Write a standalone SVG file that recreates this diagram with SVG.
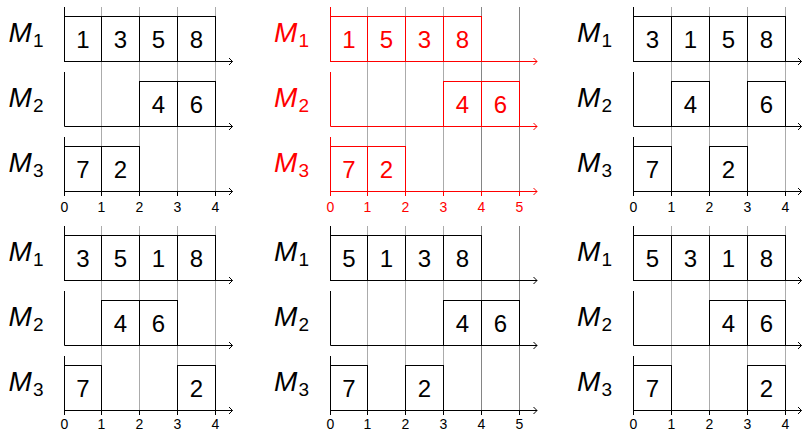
<svg xmlns="http://www.w3.org/2000/svg" width="804" height="432" viewBox="0 0 804 432">
<defs>
<style>
.blk{color:#000}
.red{color:#ff0000}
.grid line{stroke:#ababab;stroke-width:1}
.grid line.d{stroke:#858585}
.ax line,.ax path{stroke:currentColor;stroke-width:1;fill:none}
.bx rect{fill:none;stroke:currentColor;stroke-width:1}
.num{font-family:"Liberation Sans",Arial,sans-serif;font-size:24px;text-anchor:middle;fill:currentColor}
.lab{font-family:"Liberation Sans",Arial,sans-serif;font-size:28px;font-style:italic;fill:currentColor}
.sub{font-family:"Liberation Sans",Arial,sans-serif;font-size:19px;fill:currentColor}
.tk{font-family:"Liberation Sans",Arial,sans-serif;font-size:14px;text-anchor:middle;fill:currentColor}
</style>
</defs>

<!-- ===== Panel 1 (top-left) ===== -->
<g id="panel-tl" class="blk">
 <g class="grid">
  <line x1="101.5" y1="7" x2="101.5" y2="191.5"/><line x1="139.5" y1="7" x2="139.5" y2="191.5"/><line x1="177.5" y1="7" x2="177.5" y2="191.5"/><line x1="215.5" y1="7" x2="215.5" y2="191.5"/>
 </g>
 <g id="tl-boxes">
  <g id="tl-m1-1" class="bx"><rect x="64.5" y="16.5" width="37" height="45"/><text class="num" x="83" y="48">1</text></g>
  <g id="tl-m1-3" class="bx"><rect x="101.5" y="16.5" width="38" height="45"/><text class="num" x="120.5" y="48">3</text></g>
  <g id="tl-m1-5" class="bx"><rect x="139.5" y="16.5" width="38" height="45"/><text class="num" x="158.5" y="48">5</text></g>
  <g id="tl-m1-8" class="bx"><rect x="177.5" y="16.5" width="38" height="45"/><text class="num" x="196.5" y="48">8</text></g>
  <g id="tl-m2-4" class="bx"><rect x="139.5" y="81.5" width="38" height="45"/><text class="num" x="158.5" y="113">4</text></g>
  <g id="tl-m2-6" class="bx"><rect x="177.5" y="81.5" width="38" height="45"/><text class="num" x="196.5" y="113">6</text></g>
  <g id="tl-m3-7" class="bx"><rect x="64.5" y="146.5" width="37" height="45"/><text class="num" x="83" y="178">7</text></g>
  <g id="tl-m3-2" class="bx"><rect x="101.5" y="146.5" width="38" height="45"/><text class="num" x="120.5" y="178">2</text></g>
 </g>
 <g id="tl-axes" class="ax">
  <line x1="64.5" y1="7" x2="64.5" y2="61.5"/><line x1="64.5" y1="61.5" x2="232.5" y2="61.5"/><path d="M229,58 L232.5,61.5 L229,65"/>
  <line x1="64.5" y1="72" x2="64.5" y2="126.5"/><line x1="64.5" y1="126.5" x2="232.5" y2="126.5"/><path d="M229,123 L232.5,126.5 L229,130"/>
  <line x1="64.5" y1="137" x2="64.5" y2="191.5"/><line x1="64.5" y1="191.5" x2="232.5" y2="191.5"/><path d="M229,188 L232.5,191.5 L229,195"/>
  <line x1="64.5" y1="191.5" x2="64.5" y2="196"/><line x1="101.5" y1="191.5" x2="101.5" y2="196"/><line x1="139.5" y1="191.5" x2="139.5" y2="196"/><line x1="177.5" y1="191.5" x2="177.5" y2="196"/><line x1="215.5" y1="191.5" x2="215.5" y2="196"/>
 </g>
 <g id="tl-labels">
  <text class="lab" x="8.5" y="42">M</text><text class="sub" x="33" y="47">1</text>
  <text class="lab" x="8.5" y="107">M</text><text class="sub" x="33" y="112">2</text>
  <text class="lab" x="8.5" y="172">M</text><text class="sub" x="33" y="177">3</text>
  <text class="tk" x="64.5" y="212">0</text><text class="tk" x="101.5" y="212">1</text><text class="tk" x="139.5" y="212">2</text><text class="tk" x="177.5" y="212">3</text><text class="tk" x="215.5" y="212">4</text>
 </g>
</g>

<!-- ===== Panel 2 (top-middle, red) ===== -->
<g id="panel-tm" class="red">
 <g class="grid">
  <line x1="367.5" y1="7" x2="367.5" y2="191.5"/><line x1="405.5" y1="7" x2="405.5" y2="191.5"/><line x1="443.5" y1="7" x2="443.5" y2="191.5"/><line class="d" x1="481.5" y1="7" x2="481.5" y2="191.5"/><line class="d" x1="519.5" y1="7" x2="519.5" y2="191.5"/>
 </g>
 <g id="tm-boxes">
  <g id="tm-m1-1" class="bx"><rect x="330.5" y="16.5" width="37" height="45"/><text class="num" x="349" y="48">1</text></g>
  <g id="tm-m1-5" class="bx"><rect x="367.5" y="16.5" width="38" height="45"/><text class="num" x="386.5" y="48">5</text></g>
  <g id="tm-m1-3" class="bx"><rect x="405.5" y="16.5" width="38" height="45"/><text class="num" x="424.5" y="48">3</text></g>
  <g id="tm-m1-8" class="bx"><rect x="443.5" y="16.5" width="38" height="45"/><text class="num" x="462.5" y="48">8</text></g>
  <g id="tm-m2-4" class="bx"><rect x="443.5" y="81.5" width="38" height="45"/><text class="num" x="462.5" y="113">4</text></g>
  <g id="tm-m2-6" class="bx"><rect x="481.5" y="81.5" width="38" height="45"/><text class="num" x="500.5" y="113">6</text></g>
  <g id="tm-m3-7" class="bx"><rect x="330.5" y="146.5" width="37" height="45"/><text class="num" x="349" y="178">7</text></g>
  <g id="tm-m3-2" class="bx"><rect x="367.5" y="146.5" width="38" height="45"/><text class="num" x="386.5" y="178">2</text></g>
 </g>
 <g id="tm-axes" class="ax">
  <line x1="330.5" y1="7" x2="330.5" y2="61.5"/><line x1="330.5" y1="61.5" x2="537" y2="61.5"/><path d="M533.5,58 L537,61.5 L533.5,65"/>
  <line x1="330.5" y1="72" x2="330.5" y2="126.5"/><line x1="330.5" y1="126.5" x2="537" y2="126.5"/><path d="M533.5,123 L537,126.5 L533.5,130"/>
  <line x1="330.5" y1="137" x2="330.5" y2="191.5"/><line x1="330.5" y1="191.5" x2="537" y2="191.5"/><path d="M533.5,188 L537,191.5 L533.5,195"/>
  <line x1="330.5" y1="191.5" x2="330.5" y2="196"/><line x1="367.5" y1="191.5" x2="367.5" y2="196"/><line x1="405.5" y1="191.5" x2="405.5" y2="196"/><line x1="443.5" y1="191.5" x2="443.5" y2="196"/><line x1="481.5" y1="191.5" x2="481.5" y2="196"/><line x1="519.5" y1="191.5" x2="519.5" y2="196"/>
 </g>
 <g id="tm-labels">
  <text class="lab" x="274" y="42">M</text><text class="sub" x="298.5" y="47">1</text>
  <text class="lab" x="274" y="107">M</text><text class="sub" x="298.5" y="112">2</text>
  <text class="lab" x="274" y="172">M</text><text class="sub" x="298.5" y="177">3</text>
  <text class="tk" x="330.5" y="212">0</text><text class="tk" x="367.5" y="212">1</text><text class="tk" x="405.5" y="212">2</text><text class="tk" x="443.5" y="212">3</text><text class="tk" x="481.5" y="212">4</text><text class="tk" x="519.5" y="212">5</text>
 </g>
</g>

<!-- ===== Panel 3 (top-right) ===== -->
<g id="panel-tr" class="blk">
 <g class="grid">
  <line x1="671.5" y1="7" x2="671.5" y2="191.5"/><line x1="709.5" y1="7" x2="709.5" y2="191.5"/><line x1="747.5" y1="7" x2="747.5" y2="191.5"/><line x1="785.5" y1="7" x2="785.5" y2="191.5"/>
 </g>
 <g id="tr-boxes">
  <g id="tr-m1-3" class="bx"><rect x="633.5" y="16.5" width="38" height="45"/><text class="num" x="652.5" y="48">3</text></g>
  <g id="tr-m1-1" class="bx"><rect x="671.5" y="16.5" width="38" height="45"/><text class="num" x="690.5" y="48">1</text></g>
  <g id="tr-m1-5" class="bx"><rect x="709.5" y="16.5" width="38" height="45"/><text class="num" x="728.5" y="48">5</text></g>
  <g id="tr-m1-8" class="bx"><rect x="747.5" y="16.5" width="38" height="45"/><text class="num" x="766.5" y="48">8</text></g>
  <g id="tr-m2-4" class="bx"><rect x="671.5" y="81.5" width="38" height="45"/><text class="num" x="690.5" y="113">4</text></g>
  <g id="tr-m2-6" class="bx"><rect x="747.5" y="81.5" width="38" height="45"/><text class="num" x="766.5" y="113">6</text></g>
  <g id="tr-m3-7" class="bx"><rect x="633.5" y="146.5" width="38" height="45"/><text class="num" x="652.5" y="178">7</text></g>
  <g id="tr-m3-2" class="bx"><rect x="709.5" y="146.5" width="38" height="45"/><text class="num" x="728.5" y="178">2</text></g>
 </g>
 <g id="tr-axes" class="ax">
  <line x1="633.5" y1="7" x2="633.5" y2="61.5"/><line x1="633.5" y1="61.5" x2="801.5" y2="61.5"/><path d="M798,58 L801.5,61.5 L798,65"/>
  <line x1="633.5" y1="72" x2="633.5" y2="126.5"/><line x1="633.5" y1="126.5" x2="801.5" y2="126.5"/><path d="M798,123 L801.5,126.5 L798,130"/>
  <line x1="633.5" y1="137" x2="633.5" y2="191.5"/><line x1="633.5" y1="191.5" x2="801.5" y2="191.5"/><path d="M798,188 L801.5,191.5 L798,195"/>
  <line x1="633.5" y1="191.5" x2="633.5" y2="196"/><line x1="671.5" y1="191.5" x2="671.5" y2="196"/><line x1="709.5" y1="191.5" x2="709.5" y2="196"/><line x1="747.5" y1="191.5" x2="747.5" y2="196"/><line x1="785.5" y1="191.5" x2="785.5" y2="196"/>
 </g>
 <g id="tr-labels">
  <text class="lab" x="577" y="42">M</text><text class="sub" x="601.5" y="47">1</text>
  <text class="lab" x="577" y="107">M</text><text class="sub" x="601.5" y="112">2</text>
  <text class="lab" x="577" y="172">M</text><text class="sub" x="601.5" y="177">3</text>
  <text class="tk" x="633.5" y="212">0</text><text class="tk" x="671.5" y="212">1</text><text class="tk" x="709.5" y="212">2</text><text class="tk" x="747.5" y="212">3</text><text class="tk" x="785.5" y="212">4</text>
 </g>
</g>

<!-- ===== Panel 4 (bottom-left) ===== -->
<g id="panel-bl" class="blk" transform="translate(0,219)">
 <g class="grid">
  <line x1="101.5" y1="7" x2="101.5" y2="191.5"/><line x1="139.5" y1="7" x2="139.5" y2="191.5"/><line x1="177.5" y1="7" x2="177.5" y2="191.5"/><line x1="215.5" y1="7" x2="215.5" y2="191.5"/>
 </g>
 <g id="bl-boxes">
  <g id="bl-m1-3" class="bx"><rect x="64.5" y="16.5" width="37" height="45"/><text class="num" x="83" y="48">3</text></g>
  <g id="bl-m1-5" class="bx"><rect x="101.5" y="16.5" width="38" height="45"/><text class="num" x="120.5" y="48">5</text></g>
  <g id="bl-m1-1" class="bx"><rect x="139.5" y="16.5" width="38" height="45"/><text class="num" x="158.5" y="48">1</text></g>
  <g id="bl-m1-8" class="bx"><rect x="177.5" y="16.5" width="38" height="45"/><text class="num" x="196.5" y="48">8</text></g>
  <g id="bl-m2-4" class="bx"><rect x="101.5" y="81.5" width="38" height="45"/><text class="num" x="120.5" y="113">4</text></g>
  <g id="bl-m2-6" class="bx"><rect x="139.5" y="81.5" width="38" height="45"/><text class="num" x="158.5" y="113">6</text></g>
  <g id="bl-m3-7" class="bx"><rect x="64.5" y="146.5" width="37" height="45"/><text class="num" x="83" y="178">7</text></g>
  <g id="bl-m3-2" class="bx"><rect x="177.5" y="146.5" width="38" height="45"/><text class="num" x="196.5" y="178">2</text></g>
 </g>
 <g id="bl-axes" class="ax">
  <line x1="64.5" y1="7" x2="64.5" y2="61.5"/><line x1="64.5" y1="61.5" x2="232.5" y2="61.5"/><path d="M229,58 L232.5,61.5 L229,65"/>
  <line x1="64.5" y1="72" x2="64.5" y2="126.5"/><line x1="64.5" y1="126.5" x2="232.5" y2="126.5"/><path d="M229,123 L232.5,126.5 L229,130"/>
  <line x1="64.5" y1="137" x2="64.5" y2="191.5"/><line x1="64.5" y1="191.5" x2="232.5" y2="191.5"/><path d="M229,188 L232.5,191.5 L229,195"/>
  <line x1="64.5" y1="191.5" x2="64.5" y2="196"/><line x1="101.5" y1="191.5" x2="101.5" y2="196"/><line x1="139.5" y1="191.5" x2="139.5" y2="196"/><line x1="177.5" y1="191.5" x2="177.5" y2="196"/><line x1="215.5" y1="191.5" x2="215.5" y2="196"/>
 </g>
 <g id="bl-labels">
  <text class="lab" x="8.5" y="42">M</text><text class="sub" x="33" y="47">1</text>
  <text class="lab" x="8.5" y="107">M</text><text class="sub" x="33" y="112">2</text>
  <text class="lab" x="8.5" y="172">M</text><text class="sub" x="33" y="177">3</text>
  <text class="tk" x="64.5" y="209.5">0</text><text class="tk" x="101.5" y="209.5">1</text><text class="tk" x="139.5" y="209.5">2</text><text class="tk" x="177.5" y="209.5">3</text><text class="tk" x="215.5" y="209.5">4</text>
 </g>
</g>

<!-- ===== Panel 5 (bottom-middle) ===== -->
<g id="panel-bm" class="blk" transform="translate(0,219)">
 <g class="grid">
  <line x1="367.5" y1="7" x2="367.5" y2="191.5"/><line x1="405.5" y1="7" x2="405.5" y2="191.5"/><line x1="443.5" y1="7" x2="443.5" y2="191.5"/><line class="d" x1="481.5" y1="7" x2="481.5" y2="191.5"/><line class="d" x1="519.5" y1="7" x2="519.5" y2="191.5"/>
 </g>
 <g id="bm-boxes">
  <g id="bm-m1-5" class="bx"><rect x="330.5" y="16.5" width="37" height="45"/><text class="num" x="349" y="48">5</text></g>
  <g id="bm-m1-1" class="bx"><rect x="367.5" y="16.5" width="38" height="45"/><text class="num" x="386.5" y="48">1</text></g>
  <g id="bm-m1-3" class="bx"><rect x="405.5" y="16.5" width="38" height="45"/><text class="num" x="424.5" y="48">3</text></g>
  <g id="bm-m1-8" class="bx"><rect x="443.5" y="16.5" width="38" height="45"/><text class="num" x="462.5" y="48">8</text></g>
  <g id="bm-m2-4" class="bx"><rect x="443.5" y="81.5" width="38" height="45"/><text class="num" x="462.5" y="113">4</text></g>
  <g id="bm-m2-6" class="bx"><rect x="481.5" y="81.5" width="38" height="45"/><text class="num" x="500.5" y="113">6</text></g>
  <g id="bm-m3-7" class="bx"><rect x="330.5" y="146.5" width="37" height="45"/><text class="num" x="349" y="178">7</text></g>
  <g id="bm-m3-2" class="bx"><rect x="405.5" y="146.5" width="38" height="45"/><text class="num" x="424.5" y="178">2</text></g>
 </g>
 <g id="bm-axes" class="ax">
  <line x1="330.5" y1="7" x2="330.5" y2="61.5"/><line x1="330.5" y1="61.5" x2="537" y2="61.5"/><path d="M533.5,58 L537,61.5 L533.5,65"/>
  <line x1="330.5" y1="72" x2="330.5" y2="126.5"/><line x1="330.5" y1="126.5" x2="537" y2="126.5"/><path d="M533.5,123 L537,126.5 L533.5,130"/>
  <line x1="330.5" y1="137" x2="330.5" y2="191.5"/><line x1="330.5" y1="191.5" x2="537" y2="191.5"/><path d="M533.5,188 L537,191.5 L533.5,195"/>
  <line x1="330.5" y1="191.5" x2="330.5" y2="196"/><line x1="367.5" y1="191.5" x2="367.5" y2="196"/><line x1="405.5" y1="191.5" x2="405.5" y2="196"/><line x1="443.5" y1="191.5" x2="443.5" y2="196"/><line x1="481.5" y1="191.5" x2="481.5" y2="196"/><line x1="519.5" y1="191.5" x2="519.5" y2="196"/>
 </g>
 <g id="bm-labels">
  <text class="lab" x="274" y="42">M</text><text class="sub" x="298.5" y="47">1</text>
  <text class="lab" x="274" y="107">M</text><text class="sub" x="298.5" y="112">2</text>
  <text class="lab" x="274" y="172">M</text><text class="sub" x="298.5" y="177">3</text>
  <text class="tk" x="330.5" y="209.5">0</text><text class="tk" x="367.5" y="209.5">1</text><text class="tk" x="405.5" y="209.5">2</text><text class="tk" x="443.5" y="209.5">3</text><text class="tk" x="481.5" y="209.5">4</text><text class="tk" x="519.5" y="209.5">5</text>
 </g>
</g>

<!-- ===== Panel 6 (bottom-right) ===== -->
<g id="panel-br" class="blk" transform="translate(0,219)">
 <g class="grid">
  <line x1="671.5" y1="7" x2="671.5" y2="191.5"/><line x1="709.5" y1="7" x2="709.5" y2="191.5"/><line x1="747.5" y1="7" x2="747.5" y2="191.5"/><line x1="785.5" y1="7" x2="785.5" y2="191.5"/>
 </g>
 <g id="br-boxes">
  <g id="br-m1-5" class="bx"><rect x="633.5" y="16.5" width="38" height="45"/><text class="num" x="652.5" y="48">5</text></g>
  <g id="br-m1-3" class="bx"><rect x="671.5" y="16.5" width="38" height="45"/><text class="num" x="690.5" y="48">3</text></g>
  <g id="br-m1-1" class="bx"><rect x="709.5" y="16.5" width="38" height="45"/><text class="num" x="728.5" y="48">1</text></g>
  <g id="br-m1-8" class="bx"><rect x="747.5" y="16.5" width="38" height="45"/><text class="num" x="766.5" y="48">8</text></g>
  <g id="br-m2-4" class="bx"><rect x="709.5" y="81.5" width="38" height="45"/><text class="num" x="728.5" y="113">4</text></g>
  <g id="br-m2-6" class="bx"><rect x="747.5" y="81.5" width="38" height="45"/><text class="num" x="766.5" y="113">6</text></g>
  <g id="br-m3-7" class="bx"><rect x="633.5" y="146.5" width="38" height="45"/><text class="num" x="652.5" y="178">7</text></g>
  <g id="br-m3-2" class="bx"><rect x="747.5" y="146.5" width="38" height="45"/><text class="num" x="766.5" y="178">2</text></g>
 </g>
 <g id="br-axes" class="ax">
  <line x1="633.5" y1="7" x2="633.5" y2="61.5"/><line x1="633.5" y1="61.5" x2="801.5" y2="61.5"/><path d="M798,58 L801.5,61.5 L798,65"/>
  <line x1="633.5" y1="72" x2="633.5" y2="126.5"/><line x1="633.5" y1="126.5" x2="801.5" y2="126.5"/><path d="M798,123 L801.5,126.5 L798,130"/>
  <line x1="633.5" y1="137" x2="633.5" y2="191.5"/><line x1="633.5" y1="191.5" x2="801.5" y2="191.5"/><path d="M798,188 L801.5,191.5 L798,195"/>
  <line x1="633.5" y1="191.5" x2="633.5" y2="196"/><line x1="671.5" y1="191.5" x2="671.5" y2="196"/><line x1="709.5" y1="191.5" x2="709.5" y2="196"/><line x1="747.5" y1="191.5" x2="747.5" y2="196"/><line x1="785.5" y1="191.5" x2="785.5" y2="196"/>
 </g>
 <g id="br-labels">
  <text class="lab" x="577" y="42">M</text><text class="sub" x="601.5" y="47">1</text>
  <text class="lab" x="577" y="107">M</text><text class="sub" x="601.5" y="112">2</text>
  <text class="lab" x="577" y="172">M</text><text class="sub" x="601.5" y="177">3</text>
  <text class="tk" x="633.5" y="209.5">0</text><text class="tk" x="671.5" y="209.5">1</text><text class="tk" x="709.5" y="209.5">2</text><text class="tk" x="747.5" y="209.5">3</text><text class="tk" x="785.5" y="209.5">4</text>
 </g>
</g>
</svg>
